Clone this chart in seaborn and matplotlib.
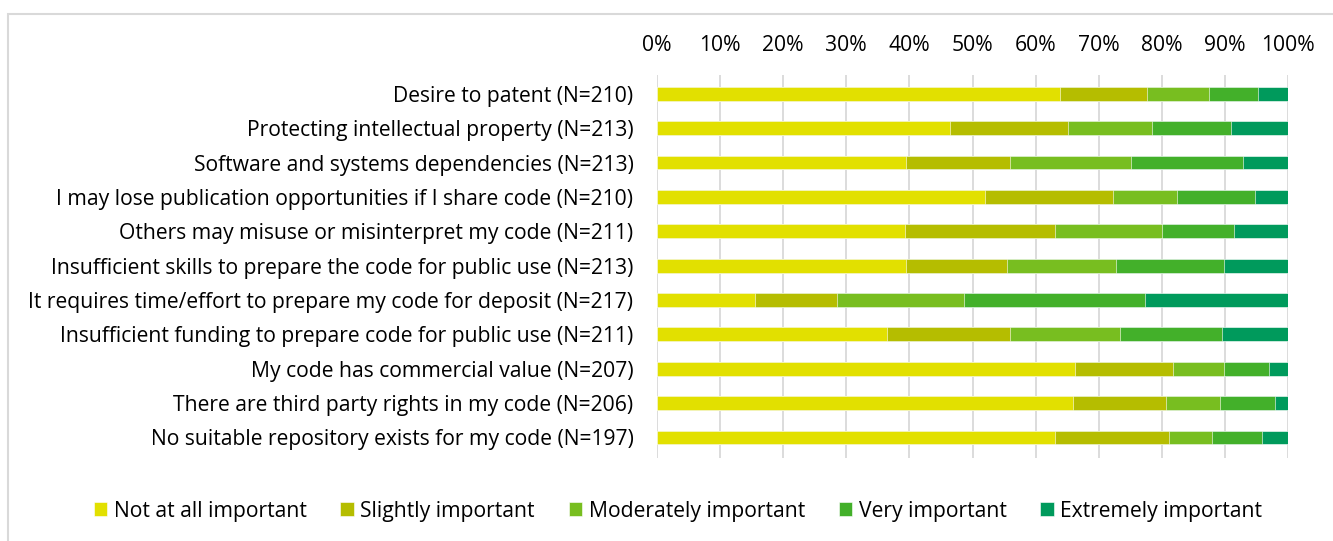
import numpy as np
import pandas as pd
import matplotlib
matplotlib.use('Agg')
import matplotlib.pyplot as plt
from matplotlib.patches import Rectangle
from matplotlib.ticker import PercentFormatter
import seaborn as sns

reasons = [
    'Desire to patent (N=210)',
    'Protecting intellectual property (N=213)',
    'Software and systems dependencies (N=213)',
    'I may lose publication opportunities if I share code (N=210)',
    'Others may misuse or misinterpret my code (N=211)',
    'Insufficient skills to prepare the code for public use (N=213)',
    'It requires time/effort to prepare my code for deposit (N=217)',
    'Insufficient funding to prepare code for public use (N=211)',
    'My code has commercial value (N=207)',
    'There are third party rights in my code (N=206)',
    'No suitable repository exists for my code (N=197)',
]
levels = ['Not at all important', 'Slightly important', 'Moderately important',
          'Very important', 'Extremely important']

not_at_all = [63.8, 46.5, 39.4, 52.0, 39.3, 39.4, 15.6, 36.4, 66.2, 66.0, 63.0]
slightly = [13.8, 18.7, 16.5, 20.3, 23.7, 16.0, 12.9, 19.5, 15.5, 14.6, 18.2]
moderately = [9.9, 13.2, 19.2, 10.1, 17.1, 17.4, 20.2, 17.5, 8.1, 8.7, 6.7]
very = [7.7, 12.6, 17.8, 12.3, 11.4, 17.0, 28.7, 16.2, 7.2, 8.7, 8.0]
extremely = [4.8, 9.0, 7.1, 5.3, 8.5, 10.2, 22.6, 10.4, 3.0, 2.0, 4.1]

colors = ['#E2E000', '#B5BD00', '#78BE20', '#43B02A', '#009A5C']

df = pd.DataFrame({'reason': reasons})
parts = np.array([not_at_all, slightly, moderately, very, extremely])
shares = parts / parts.sum(axis=0) * 100
cum = np.cumsum(shares, axis=0)

fig = plt.figure(figsize=(13.33, 5.41), dpi=100)
ax = fig.add_axes([657 / 1333, 1 - 458 / 541, (1288 - 657) / 1333, (458 - 75) / 541])

font = 'Open Sans'
fs = 15.2
# draw cumulative totals back to front so each segment shows
for i in range(len(levels) - 1, -1, -1):
    df['value'] = cum[i]
    sns.barplot(data=df, x='value', y='reason', orient='h', color=colors[i],
                width=0.4, saturation=1, edgecolor='white', linewidth=0.4,
                label=levels[i], ax=ax, zorder=3)

ax.set_xlim(0, 100)
ax.set_ylim(len(reasons) - 0.4, -0.55)
ax.xaxis.set_major_locator(plt.MultipleLocator(10))
ax.xaxis.set_major_formatter(PercentFormatter(decimals=0))
ax.xaxis.tick_top()
ax.grid(axis='x', color='#D9D9D9', linewidth=1.3, zorder=0)
ax.set_axisbelow(True)
for s in ax.spines.values():
    s.set_visible(False)
ax.tick_params(axis='both', length=0)
ax.tick_params(axis='x', pad=14)
ax.tick_params(axis='y', pad=17)
ax.set_xlabel('')
ax.set_ylabel('')
for lab in ax.get_xticklabels() + ax.get_yticklabels():
    lab.set_fontfamily(font)
    lab.set_fontsize(fs)
    lab.set_color('#000000')

handles, labels = ax.get_legend_handles_labels()
order = [labels.index(l) for l in levels]
ax.legend([handles[k] for k in order], [labels[k] for k in order],
          loc='center', bbox_to_anchor=(678 / 1333, 1 - 511 / 541),
          bbox_transform=fig.transFigure, ncol=5, frameon=False,
          handlelength=0.65, handleheight=0.65, handletextpad=0.3,
          columnspacing=1.6, prop={'family': font, 'size': fs})

fig.patches.append(Rectangle((8 / 1333, -0.1), 1.2, 1.1 - 14 / 541,
                             transform=fig.transFigure, fill=False,
                             edgecolor='#D9D9D9', linewidth=1.5))

fig.savefig('out.png', dpi=100)
